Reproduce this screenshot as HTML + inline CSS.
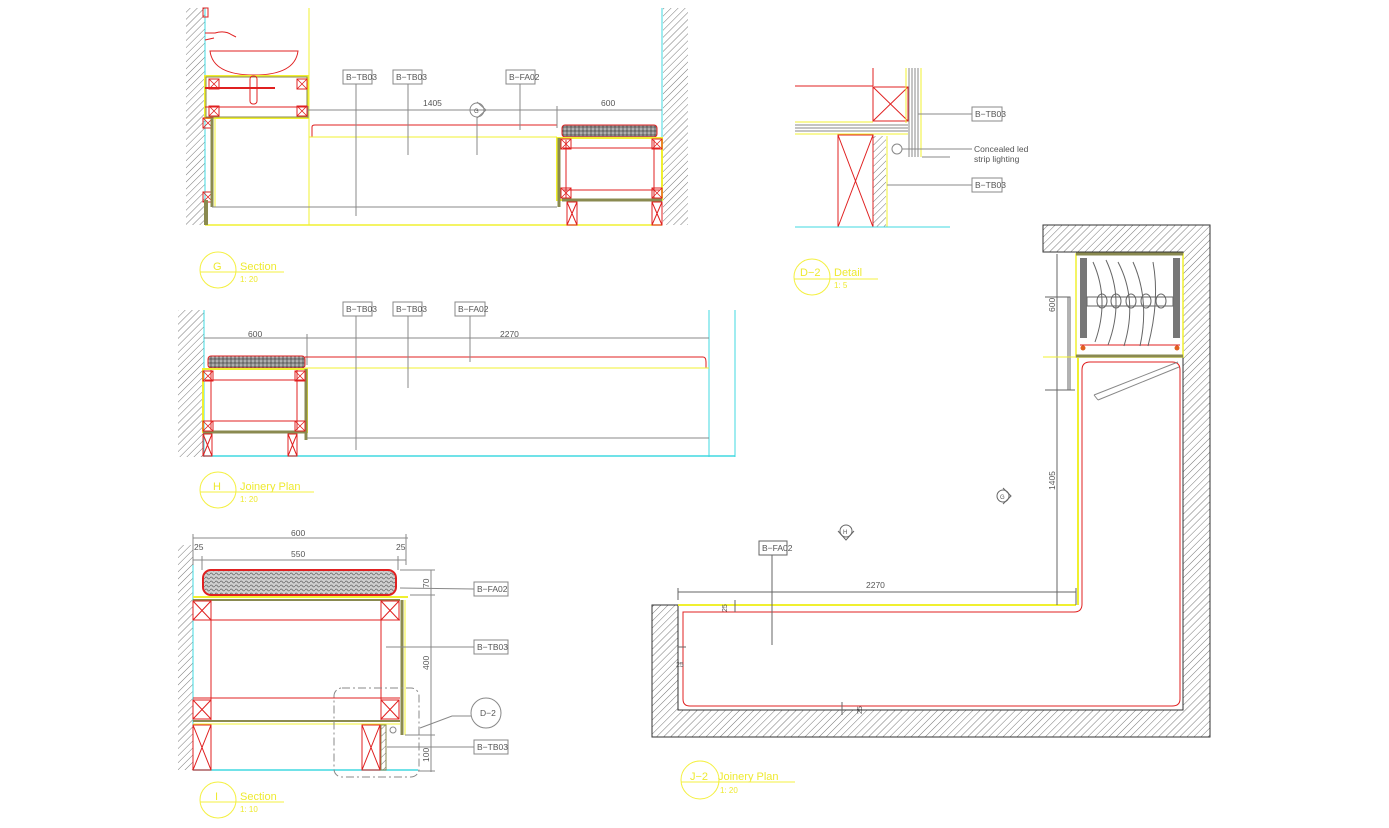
<!DOCTYPE html>
<html><head><meta charset="utf-8"><style>
html,body{margin:0;padding:0;background:#fff;}
svg{display:block;}
text{font-family:"Liberation Sans",sans-serif;}
</style></head><body>
<svg width="1389" height="828" viewBox="0 0 1389 828" xmlns="http://www.w3.org/2000/svg">
<defs>
<pattern id="h" width="5" height="5" patternUnits="userSpaceOnUse" patternTransform="rotate(45)">
<line x1="0" y1="0" x2="0" y2="5" stroke="#777" stroke-width="1"/></pattern>
<pattern id="dots" width="4" height="4" patternUnits="userSpaceOnUse">
<rect width="4" height="4" fill="#888"/><circle cx="1" cy="1" r="0.8" fill="#ddd"/><circle cx="3" cy="3" r="0.7" fill="#444"/></pattern>
<pattern id="dots2" width="5" height="4" patternUnits="userSpaceOnUse">
<rect width="5" height="4" fill="#cfcfcf"/><path d="M0 2 Q1.2 0 2.5 2 T5 2" fill="none" stroke="#666" stroke-width="0.7"/></pattern>
<g id="xb"><rect x="0" y="0" width="10" height="10" fill="none" stroke="#e02020"/><path d="M0 0L10 10M10 0L0 10" stroke="#e02020" stroke-width="0.8"/></g>
</defs>
<g fill="none" stroke-width="1">

<!-- ===== G SECTION ===== -->
<rect x="186" y="8" width="19" height="217" fill="url(#h)" stroke="none"/>
<rect x="663" y="8" width="25" height="217" fill="url(#h)" stroke="none"/>
<line x1="205" y1="8" x2="205" y2="225" stroke="#40d8e0"/>
<line x1="662" y1="8" x2="662" y2="225" stroke="#40d8e0"/>
<line x1="309" y1="8" x2="309" y2="225" stroke="#f0f030"/>
<line x1="205" y1="225" x2="662" y2="225" stroke="#f0f030" stroke-width="1.5"/>
<rect x="203" y="8" width="5" height="9" stroke="#e02020"/>
<path d="M205 33 L215 33 Q225 30 232 35 L236 37 M205 40 L214 38" stroke="#e02020"/>
<path d="M210 51 L298 51 Q295 75 254 75 Q213 75 210 51Z" stroke="#e02020"/>
<rect x="205" y="76" width="103" height="42" stroke="#f0f030" stroke-width="2"/>
<rect x="206" y="77" width="101" height="40" stroke="#8a8a50"/>
<line x1="205" y1="88" x2="275" y2="88" stroke="#e02020" stroke-width="2"/>
<line x1="205" y1="107" x2="308" y2="107" stroke="#e02020"/>
<rect x="250" y="76" width="7" height="28" rx="3" stroke="#e02020"/>
<use href="#xb" x="209" y="79"/><use href="#xb" x="297" y="79"/>
<use href="#xb" x="209" y="106"/><use href="#xb" x="297" y="106"/>
<use href="#xb" x="203" y="118" transform="translate(0,0)"/>
<use href="#xb" x="203" y="192"/>
<line x1="212" y1="118" x2="212" y2="207" stroke="#8a8a50" stroke-width="3"/>
<line x1="215" y1="118" x2="215" y2="207" stroke="#f0f030"/>
<line x1="206" y1="200" x2="206" y2="225" stroke="#8a8a50" stroke-width="4"/>
<line x1="212" y1="207" x2="557" y2="207" stroke="#888"/>
<path d="M309 137 L312 137 L312 127 Q312 125 315 125 L557 125" stroke="#e02020"/>
<line x1="309" y1="137" x2="557" y2="137" stroke="#f0f030"/>
<rect x="562" y="125" width="95" height="12" rx="3" fill="url(#dots)" stroke="#e02020"/>
<rect x="557" y="138" width="105" height="62" stroke="#f0f030" stroke-width="2"/>
<line x1="559" y1="138" x2="559" y2="207" stroke="#8a8a50" stroke-width="3"/>
<line x1="562" y1="200" x2="662" y2="200" stroke="#8a8a50" stroke-width="3"/>
<line x1="563" y1="148" x2="660" y2="148" stroke="#e02020"/>
<line x1="563" y1="190" x2="660" y2="190" stroke="#e02020"/>
<line x1="566" y1="140" x2="566" y2="198" stroke="#e02020"/>
<line x1="654" y1="140" x2="654" y2="198" stroke="#e02020"/>
<use href="#xb" x="561" y="139"/><use href="#xb" x="652" y="139"/>
<use href="#xb" x="561" y="188"/><use href="#xb" x="652" y="188"/>
<rect x="567" y="202" width="10" height="23" stroke="#e02020"/><path d="M567 202L577 225M577 202L567 225" stroke="#e02020"/>
<rect x="652" y="202" width="10" height="23" stroke="#e02020"/><path d="M652 202L662 225M662 202L652 225" stroke="#e02020"/>
<line x1="308" y1="110" x2="662" y2="110" stroke="#888"/>
<line x1="557" y1="106" x2="557" y2="128" stroke="#888"/>
<line x1="308" y1="106" x2="308" y2="118" stroke="#888"/>
<g stroke="#888"><rect x="343" y="70" width="29" height="14"/><rect x="393" y="70" width="29" height="14"/><rect x="506" y="70" width="29" height="14"/>
<line x1="356" y1="84" x2="356" y2="216"/><line x1="408" y1="84" x2="408" y2="155"/><line x1="520" y1="84" x2="520" y2="130"/>
<line x1="477" y1="117" x2="477" y2="155"/>
<circle cx="477" cy="110" r="7"/><path d="M477 102 L486 110 L477 118"/></g>

<!-- ===== H PLAN ===== -->
<rect x="178" y="310" width="26" height="147" fill="url(#h)" stroke="none"/>
<line x1="204" y1="310" x2="204" y2="457" stroke="#40d8e0"/>
<line x1="709" y1="310" x2="709" y2="457" stroke="#40d8e0"/>
<line x1="735" y1="310" x2="735" y2="457" stroke="#40d8e0"/>
<line x1="204" y1="456" x2="735" y2="456" stroke="#40d8e0" stroke-width="1.5"/>
<line x1="204" y1="338" x2="709" y2="338" stroke="#888"/>
<line x1="307" y1="334" x2="307" y2="365" stroke="#888"/>
<rect x="208" y="356" width="97" height="12" rx="3" fill="url(#dots)" stroke="#e02020"/>
<path d="M305 357 L703 357 Q706 357 706 362 L706 368" stroke="#e02020"/>
<line x1="305" y1="368" x2="709" y2="368" stroke="#f0f030"/>
<rect x="203" y="369" width="104" height="63" stroke="#f0f030" stroke-width="2"/>
<line x1="306" y1="369" x2="306" y2="440" stroke="#8a8a50" stroke-width="3"/>
<line x1="203" y1="432" x2="306" y2="432" stroke="#8a8a50" stroke-width="3"/>
<line x1="205" y1="380" x2="305" y2="380" stroke="#e02020"/><line x1="205" y1="421" x2="305" y2="421" stroke="#e02020"/>
<line x1="211" y1="370" x2="211" y2="430" stroke="#e02020"/><line x1="297" y1="370" x2="297" y2="430" stroke="#e02020"/>
<use href="#xb" x="203" y="371"/><use href="#xb" x="295" y="371"/><use href="#xb" x="203" y="421"/><use href="#xb" x="295" y="421"/>
<rect x="203" y="434" width="9" height="22" stroke="#e02020"/><path d="M203 434L212 456M212 434L203 456" stroke="#e02020"/>
<rect x="288" y="434" width="9" height="22" stroke="#e02020"/><path d="M288 434L297 456M297 434L288 456" stroke="#e02020"/>
<line x1="307" y1="438" x2="709" y2="438" stroke="#888"/>
<g stroke="#888"><rect x="343" y="302" width="29" height="14"/><rect x="393" y="302" width="29" height="14"/><rect x="455" y="302" width="30" height="14"/>
<line x1="356" y1="316" x2="356" y2="450"/><line x1="408" y1="316" x2="408" y2="388"/><line x1="470" y1="316" x2="470" y2="362"/></g>

<!-- ===== I SECTION ===== -->
<rect x="178" y="545" width="15" height="225" fill="url(#h)" stroke="none"/>
<line x1="193" y1="545" x2="193" y2="770" stroke="#40d8e0"/>
<line x1="193" y1="770" x2="418" y2="770" stroke="#40d8e0" stroke-width="1.5"/>
<rect x="203" y="570" width="193" height="25" rx="8" fill="url(#dots2)" stroke="#e02020" stroke-width="2"/>
<line x1="193" y1="597" x2="408" y2="597" stroke="#f0f030" stroke-width="2"/>
<line x1="193" y1="600" x2="400" y2="600" stroke="#8a8a50" stroke-width="2"/>
<line x1="402" y1="600" x2="402" y2="735" stroke="#8a8a50" stroke-width="3"/>
<line x1="405" y1="600" x2="405" y2="735" stroke="#f0f030"/>
<line x1="193" y1="620" x2="400" y2="620" stroke="#e02020"/>
<line x1="193" y1="698" x2="400" y2="698" stroke="#e02020"/>
<line x1="211" y1="600" x2="211" y2="720" stroke="#e02020"/><line x1="381" y1="600" x2="381" y2="720" stroke="#e02020"/>
<g stroke="#e02020"><rect x="193" y="601" width="18" height="19"/><path d="M193 601L211 620M211 601L193 620"/>
<rect x="381" y="601" width="18" height="19"/><path d="M381 601L399 620M399 601L381 620"/>
<rect x="193" y="700" width="18" height="19"/><path d="M193 700L211 719M211 700L193 719"/>
<rect x="381" y="700" width="18" height="19"/><path d="M381 700L399 719M399 700L381 719"/>
<rect x="193" y="725" width="18" height="45"/><path d="M193 725L211 770M211 725L193 770"/>
<rect x="362" y="725" width="18" height="45"/><path d="M362 725L380 770M380 725L362 770"/></g>
<line x1="193" y1="721" x2="400" y2="721" stroke="#8a8a50" stroke-width="2"/>
<line x1="193" y1="724" x2="400" y2="724" stroke="#f0f030"/>
<rect x="381" y="725" width="5" height="45" fill="url(#h)" stroke="#8a8a50"/>
<circle cx="393" cy="730" r="3" stroke="#888"/>
<rect x="334" y="688" width="85" height="89" rx="8" stroke="#888" stroke-dasharray="8 3 2 3"/>
<g stroke="#888">
<line x1="193" y1="538" x2="408" y2="538"/><line x1="193" y1="534" x2="193" y2="565"/><line x1="406" y1="534" x2="406" y2="565"/>
<line x1="193" y1="560" x2="406" y2="560"/><line x1="202" y1="556" x2="202" y2="570"/><line x1="398" y1="556" x2="398" y2="570"/>
<line x1="431" y1="570" x2="431" y2="772"/><line x1="400" y1="570" x2="435" y2="570"/><line x1="410" y1="595" x2="435" y2="595"/><line x1="405" y1="735" x2="435" y2="735"/><line x1="418" y1="771" x2="435" y2="771"/>
<rect x="474" y="582" width="34" height="14"/><line x1="400" y1="588" x2="474" y2="589"/>
<rect x="474" y="640" width="34" height="14"/><line x1="386" y1="647" x2="474" y2="647"/>
<rect x="474" y="740" width="34" height="14"/><line x1="387" y1="747" x2="474" y2="747"/>
<circle cx="486" cy="713" r="15"/><path d="M471 716 L452 716 L420 728"/></g>

<!-- ===== D-2 DETAIL ===== -->
<line x1="795" y1="86" x2="873" y2="86" stroke="#e02020"/>
<line x1="873" y1="68" x2="873" y2="86" stroke="#e02020"/>
<rect x="873" y="87" width="35" height="34" stroke="#e02020"/><path d="M873 87L908 121M908 87L873 121" stroke="#e02020"/>
<g stroke="#888"><line x1="909" y1="68" x2="909" y2="157"/><line x1="912" y1="68" x2="912" y2="157"/><line x1="915" y1="68" x2="915" y2="157"/><line x1="918" y1="68" x2="918" y2="157"/>
<line x1="795" y1="125" x2="908" y2="125"/><line x1="795" y1="128" x2="908" y2="128"/><line x1="795" y1="131" x2="908" y2="131"/></g>
<line x1="906" y1="68" x2="906" y2="123" stroke="#f0f030"/><line x1="921" y1="68" x2="921" y2="157" stroke="#f0f030"/>
<line x1="795" y1="122" x2="873" y2="122" stroke="#f0f030"/><line x1="795" y1="134" x2="908" y2="134" stroke="#f0f030"/>
<rect x="838" y="135" width="35" height="92" stroke="#e02020"/><path d="M838 135L873 227M873 135L838 227" stroke="#e02020"/>
<rect x="873" y="136" width="13" height="91" fill="url(#h)" stroke="none"/><line x1="887" y1="136" x2="887" y2="227" stroke="#f0f030"/>
<line x1="795" y1="227" x2="950" y2="227" stroke="#40d8e0"/>
<g stroke="#888"><circle cx="897" cy="149" r="5"/><line x1="922" y1="157" x2="950" y2="157"/>
<line x1="902" y1="149" x2="972" y2="149"/>
<rect x="972" y="107" width="30" height="14"/><line x1="918" y1="114" x2="972" y2="114"/>
<rect x="972" y="178" width="30" height="14"/><line x1="887" y1="185" x2="972" y2="185"/></g>

<!-- ===== J-2 PLAN ===== -->
<path d="M1043 225 H1210 V737 H652 V605 H678 V710 H1183 V252 H1043 Z" fill="url(#h)" stroke="#333"/>
<line x1="678" y1="605" x2="1076" y2="605" stroke="#f0f030" stroke-width="2"/>
<line x1="1078" y1="358" x2="1078" y2="605" stroke="#f0f030" stroke-width="2"/>
<path d="M683 612 H1074 Q1082 612 1082 604 V370 Q1082 362 1090 362 H1172 Q1180 362 1180 370 V699 Q1180 706 1172 706 H690 Q683 706 683 699 Z" stroke="#e02020"/>
<path d="M1094 395 L1178 362 M1098 400 L1179 367 M1094 395 L1098 400" stroke="#888"/>
<rect x="1076" y="254" width="107" height="103" stroke="#f0f030" stroke-width="1.5"/>
<line x1="1076" y1="254" x2="1183" y2="254" stroke="#8a8a50" stroke-width="3"/>
<line x1="1076" y1="356" x2="1183" y2="356" stroke="#8a8a50" stroke-width="3"/>
<rect x="1080" y="258" width="7" height="80" fill="#777" stroke="none"/>
<rect x="1173" y="258" width="7" height="80" fill="#777" stroke="none"/>
<line x1="1080" y1="345" x2="1180" y2="345" stroke="#e02020"/>
<circle cx="1083" cy="348" r="2.5" fill="#e06020" stroke="none"/><circle cx="1177" cy="348" r="2.5" fill="#e06020" stroke="none"/>
<g stroke="#666"><rect x="1087" y="297" width="86" height="9"/>
<path d="M1093 262 Q1110 300 1095 342"/><path d="M1106 260 Q1125 300 1108 345"/><path d="M1118 262 Q1138 300 1124 346"/><path d="M1133 262 Q1150 300 1140 346"/><path d="M1153 262 Q1160 300 1148 346"/>
<ellipse cx="1102" cy="301" rx="5" ry="7"/><ellipse cx="1116" cy="301" rx="5" ry="7"/><ellipse cx="1131" cy="301" rx="5" ry="7"/><ellipse cx="1146" cy="301" rx="5" ry="7"/><ellipse cx="1161" cy="301" rx="5" ry="7"/>
<path d="M1045 297 H1070 V390 H1075 M1068 297 V390 M1045 390 H1075"/>
<line x1="1057" y1="254" x2="1057" y2="605"/><line x1="1043" y1="357" x2="1076" y2="357" stroke="#f0f030"/>
<line x1="678" y1="592" x2="1076" y2="592"/><line x1="678" y1="588" x2="678" y2="600"/><line x1="1076" y1="588" x2="1076" y2="605"/>
<line x1="735" y1="600" x2="735" y2="612"/><line x1="678" y1="647" x2="686" y2="647"/><line x1="842" y1="702" x2="842" y2="715"/>
<rect x="759" y="541" width="28" height="14"/><line x1="772" y1="555" x2="772" y2="645"/>
<circle cx="846" cy="531" r="6"/><path d="M838 531 L846 540 L854 531"/>
<circle cx="1003" cy="496" r="6"/><path d="M1003 488 L1011 496 L1003 504"/></g>
</g>

<!-- TEXT -->
<g font-size="8.5" fill="#555">
<text x="346" y="80">B−TB03</text><text x="396" y="80">B−TB03</text><text x="509" y="80">B−FA02</text>
<text x="423" y="106">1405</text><text x="601" y="106">600</text>
<text x="474" y="113" font-size="6">G</text>
<text x="346" y="312">B−TB03</text><text x="396" y="312">B−TB03</text><text x="458" y="312">B−FA02</text>
<text x="248" y="337">600</text><text x="500" y="337">2270</text>
<text x="291" y="536">600</text><text x="291" y="557">550</text><text x="194" y="550">25</text><text x="396" y="550">25</text>
<text x="477" y="592">B−FA02</text><text x="477" y="650">B−TB03</text><text x="477" y="750">B−TB03</text>
<text x="480" y="716">D−2</text>
<text transform="translate(429,588) rotate(-90)">70</text>
<text transform="translate(429,670) rotate(-90)">400</text>
<text transform="translate(429,762) rotate(-90)">100</text>
<text x="975" y="117">B−TB03</text><text x="975" y="188">B−TB03</text>
<text x="974" y="152">Concealed      led</text><text x="974" y="162">strip  lighting</text>
<text x="762" y="551">B−FA02</text><text x="866" y="588">2270</text>
<text transform="translate(1055,490) rotate(-90)">1405</text>
<text transform="translate(1055,312) rotate(-90)">600</text>
<text transform="translate(727,612) rotate(-90)" font-size="7">25</text>
<text x="676" y="667" font-size="7">25</text>
<text transform="translate(862,714) rotate(-90)" font-size="7">25</text>
<text x="843" y="534" font-size="6">H</text><text x="1000" y="499" font-size="6">G</text>
</g>

<!-- TITLES -->
<g stroke="#f4f040" fill="none">
<circle cx="218" cy="270" r="18"/><line x1="200" y1="272" x2="284" y2="272"/>
<circle cx="218" cy="490" r="18"/><line x1="200" y1="492" x2="314" y2="492"/>
<circle cx="218" cy="800" r="18"/><line x1="200" y1="802" x2="284" y2="802"/>
<circle cx="812" cy="277" r="18"/><line x1="794" y1="279" x2="878" y2="279"/>
<circle cx="700" cy="780" r="19"/><line x1="681" y1="782" x2="795" y2="782"/>
</g>
<g fill="#eeea30" font-size="11">
<text x="213" y="270">G</text><text x="240" y="270">Section</text><text x="240" y="282" font-size="8">1: 20</text>
<text x="213" y="490">H</text><text x="240" y="490">Joinery  Plan</text><text x="240" y="502" font-size="8">1: 20</text>
<text x="215" y="800">I</text><text x="240" y="800">Section</text><text x="240" y="812" font-size="8">1: 10</text>
<text x="800" y="276">D−2</text><text x="834" y="276">Detail</text><text x="834" y="288" font-size="8">1: 5</text>
<text x="690" y="780">J−2</text><text x="718" y="780">Joinery  Plan</text><text x="720" y="793" font-size="8">1: 20</text>
</g>
</svg>
</body></html>
